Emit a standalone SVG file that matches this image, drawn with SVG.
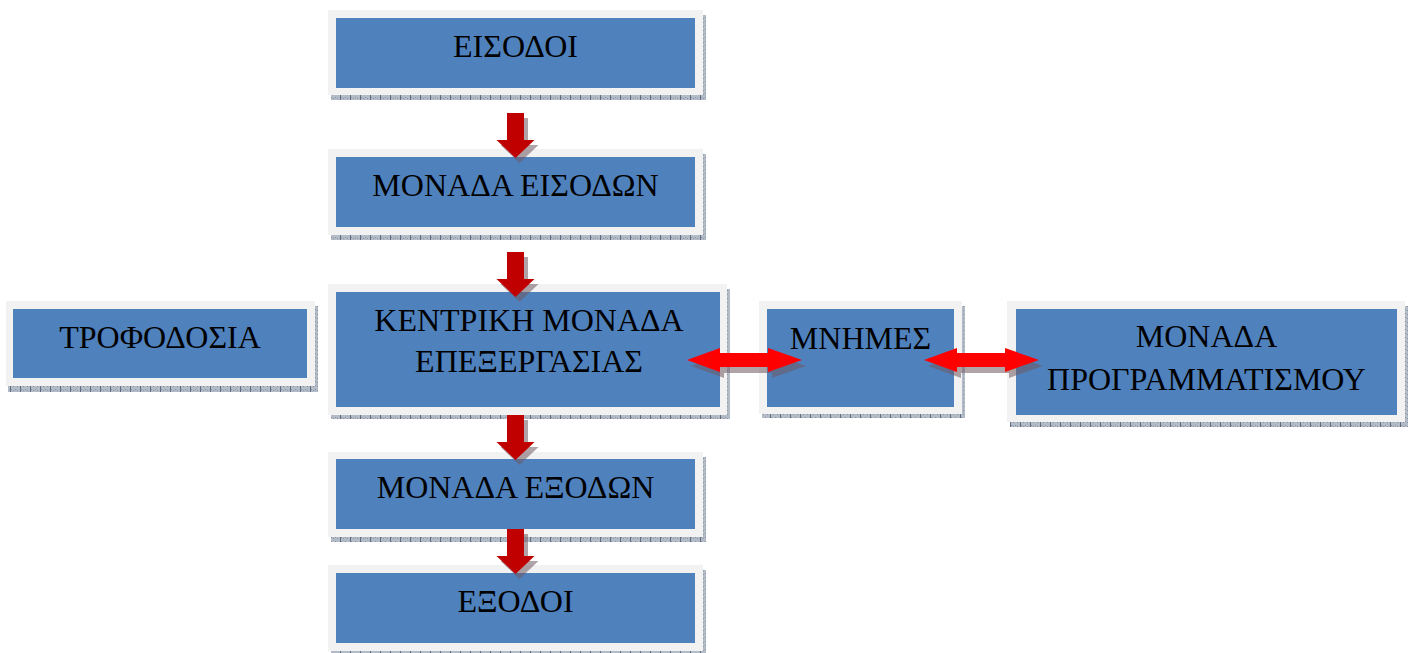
<svg xmlns="http://www.w3.org/2000/svg" width="1413" height="653" viewBox="0 0 1413 653">
  <style>
    .frame { fill: #F2F2F2; }
    .body { fill: #4F81BD; }
    .shade { fill: url(#hatch); }
    .label { font-family: "Liberation Serif", "Times New Roman", serif; font-size: 32px; fill: #000; text-anchor: middle; }
    .down { fill: #C00000; }
    .both { fill: #FF0000; }
    .ashade { fill: #6f5a62; opacity: 0.55; }
  </style>
  <defs>
    <!-- dotted drop-shadow texture under each box -->
    <pattern id="hatch" width="10" height="4" patternUnits="userSpaceOnUse">
      <rect width="10" height="4" fill="#b3bbc7"/>
      <rect x="1" y="1" width="1" height="1" fill="#8893a5"/>
      <rect x="3" y="2" width="1" height="1" fill="#8893a5"/>
      <rect x="5" y="1" width="1" height="1" fill="#8893a5"/>
      <rect x="7" y="2" width="1" height="1" fill="#8893a5"/>
      <rect x="0" y="0" width="1" height="4" fill="#5f6c82"/>
    </pattern>
    <path id="arrowDown" d="M-8.5 0 H8.5 V27 H19 L0 45 L-19 27 H-8.5 Z"/>
    <path id="arrowBoth" d="M0 0 L33 -12 V-7 H81 V-12 L115 0 L81 12 V7 H33 V12 Z"/>
  </defs>

  <g id="eisodoi">
    <rect class="shade" x="331" y="15" width="375" height="85"/>
    <rect class="frame" x="328" y="10" width="375" height="85"/>
    <rect class="body" x="336" y="18" width="359" height="70"/>
    <text class="label" x="515.5" y="57">ΕΙΣΟΔΟΙ</text>
  </g>

  <g id="monada-eisodon">
    <rect class="shade" x="331" y="154" width="375" height="86"/>
    <rect class="frame" x="328" y="149" width="375" height="86"/>
    <rect class="body" x="336" y="157" width="359" height="70"/>
    <text class="label" x="515.5" y="196">ΜΟΝΑΔΑ ΕΙΣΟΔΩΝ</text>
  </g>

  <g id="kentriki-monada">
    <rect class="shade" x="331" y="289" width="399" height="130"/>
    <rect class="frame" x="328" y="284" width="399" height="131"/>
    <rect class="body" x="336" y="292" width="384" height="115"/>
    <text class="label" x="529" y="331">ΚΕΝΤΡΙΚΗ ΜΟΝΑΔΑ</text>
    <text class="label" x="529" y="372">ΕΠΕΞΕΡΓΑΣΙΑΣ</text>
  </g>

  <g id="monada-exodon">
    <rect class="shade" x="331" y="457" width="375" height="85"/>
    <rect class="frame" x="328" y="452" width="375" height="85"/>
    <rect class="body" x="336" y="459" width="359" height="70"/>
    <text class="label" x="515.5" y="498">ΜΟΝΑΔΑ ΕΞΟΔΩΝ</text>
  </g>

  <g id="exodoi">
    <rect class="shade" x="331" y="570" width="375" height="86"/>
    <rect class="frame" x="328" y="565" width="375" height="86"/>
    <rect class="body" x="336" y="573" width="359" height="70"/>
    <text class="label" x="515.5" y="612">ΕΞΟΔΟΙ</text>
  </g>

  <g id="trofodosia">
    <rect class="shade" x="8" y="306" width="310" height="86"/>
    <rect class="frame" x="6" y="301" width="309" height="85"/>
    <rect class="body" x="13" y="309" width="294" height="69"/>
    <text class="label" x="160" y="348">ΤΡΟΦΟΔΟΣΙΑ</text>
  </g>

  <g id="mnimes">
    <rect class="shade" x="762" y="306" width="203" height="112"/>
    <rect class="frame" x="759" y="301" width="203" height="113"/>
    <rect class="body" x="767" y="309" width="187" height="98"/>
    <text class="label" x="860.5" y="349">ΜΝΗΜΕΣ</text>
  </g>

  <g id="monada-programmatismou">
    <rect class="shade" x="1010" y="306" width="398" height="121"/>
    <rect class="frame" x="1007" y="301" width="398" height="121"/>
    <rect class="body" x="1016" y="309" width="381" height="106"/>
    <text class="label" x="1206.5" y="347">ΜΟΝΑΔΑ</text>
    <text class="label" x="1206.5" y="390">ΠΡΟΓΡΑΜΜΑΤΙΣΜΟΥ</text>
  </g>

  <g id="connectors">
    <!-- downward flow arrows, each with a soft offset shadow -->
    <use href="#arrowDown" class="ashade" transform="translate(519.5,118)"/>
    <use href="#arrowDown" class="down" transform="translate(515.5,113)"/>
    <use href="#arrowDown" class="ashade" transform="translate(519.5,257)"/>
    <use href="#arrowDown" class="down" transform="translate(515.5,252)"/>
    <use href="#arrowDown" class="ashade" transform="translate(519.5,420)"/>
    <use href="#arrowDown" class="down" transform="translate(515.5,415)"/>
    <use href="#arrowDown" class="ashade" transform="translate(519.5,534)"/>
    <use href="#arrowDown" class="down" transform="translate(515.5,529)"/>
    <!-- two-way links to the memory unit -->
    <use href="#arrowBoth" class="ashade" transform="translate(691,366)"/>
    <use href="#arrowBoth" class="both" transform="translate(687,360)"/>
    <use href="#arrowBoth" class="ashade" transform="translate(928,366)"/>
    <use href="#arrowBoth" class="both" transform="translate(924,360)"/>
  </g>
</svg>
